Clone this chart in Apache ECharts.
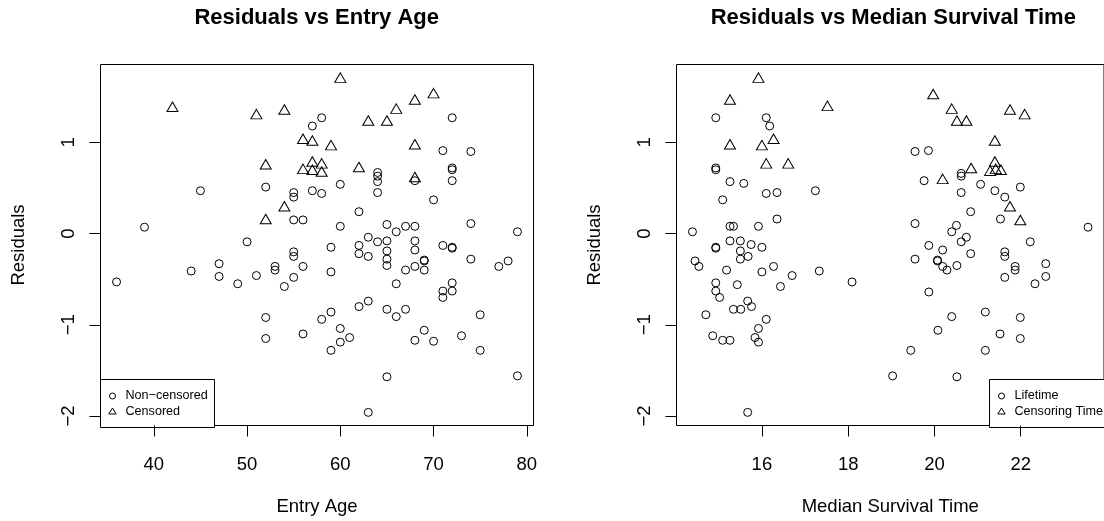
<!DOCTYPE html>
<html>
<head>
<meta charset="utf-8">
<title>Residuals</title>
<script src="https://cdn.jsdelivr.net/npm/echarts@6/dist/echarts.min.js"></script>
<style>
html,body{margin:0;padding:0;background:#fff;}
#main{width:1104px;height:521px;}
</style>
</head>
<body>
<div id="main"></div>
<script>
var FONT = '"Liberation Sans", Arial, Helvetica, sans-serif';

//left panel: entry age, non-censored
var ageLifeX = [58,57,45,52,55,55,57,58,39,55,56,50,
	55,55,44,47,47,49,51,53,53,54,55,56,36,52,52,56,
	72,71,74,72,72,72,64,64,64,64,68,60,70,62,60,65,66,67,68,74,79,59,62,63,64,65,68,71,72,
	65,65,65,62,63,59,66,67,68,68,69,69,69,72,74,77,78,72,72,71,71,62,63,65,66,67,59,58,60,60,61,59,69,68,70,73,75,75,65,79,63];
var ageLifeY = [1.27,1.18,0.47,0.51,0.45,0.40,0.47,0.44,0.07,0.15,0.15,-0.09,
	-0.20,-0.25,-0.41,-0.33,-0.47,-0.55,-0.46,-0.36,-0.40,-0.58,-0.48,-0.36,-0.53,-0.92,-1.15,-1.10,
	1.27,0.91,0.90,0.72,0.70,0.58,0.67,0.63,0.57,0.45,0.58,0.54,0.37,0.24,0.08,0.10,0.02,0.08,0.08,0.11,0.02,-0.15,-0.13,-0.04,-0.09,-0.08,-0.08,-0.13,-0.15,
	-0.19,-0.28,-0.35,-0.22,-0.25,-0.42,-0.55,-0.40,-0.36,-0.18,-0.29,-0.30,-0.40,-0.16,-0.28,-0.36,-0.30,-0.54,-0.63,-0.63,-0.70,-0.80,-0.74,-0.83,-0.91,-0.83,-0.86,-0.94,-1.04,-1.19,-1.14,-1.28,-1.06,-1.17,-1.18,-1.12,-0.89,-1.28,-1.57,-1.56,-1.96];
//left panel: entry age, censored
var ageCensX = [42,51,54,56,57,52,57,56,57,58,58,54,52,60,68,70,66,63,65,68,59,62,68];
var ageCensY = [1.39,1.31,1.36,1.04,1.02,0.76,0.79,0.71,0.70,0.77,0.68,0.30,0.16,1.71,1.47,1.54,1.37,1.24,1.24,0.98,0.97,0.73,0.62];

//right panel: median survival time, lifetime
var survLifeX = [14.93,16.1,16.18,14.93,14.93,15.26,15.58,16.1,16.35,17.24,15.09,16.35,15.92,15.26,15.34,14.39,14.93,15.26,15.5,15.75,16.0,
	14.93,15.5,15.5,15.68,14.45,14.54,15.18,16.0,16.27,16.7,17.33,18.09,16.43,14.93,14.93,15.02,15.43,15.67,15.76,15.34,15.51,14.7,16.1,15.92,14.86,15.09,15.26,15.84,15.92,15.67,
	19.55,19.86,19.76,20.62,20.62,20.62,21.07,21.4,21.63,21.99,20.84,21.53,19.55,20.51,20.4,23.56,20.74,20.62,22.22,19.87,
	20.19,20.84,21.63,21.63,19.55,20.07,20.07,20.19,20.29,20.52,21.87,21.87,21.63,22.58,22.58,22.33,19.87,20.4,21.18,21.99,20.08,21.52,21.99,19.45,21.18,19.03,20.52];
var survLifeY = [1.27,1.27,1.18,0.72,0.70,0.57,0.55,0.44,0.45,0.47,0.37,0.16,0.08,0.08,0.08,0.02,-0.15,-0.08,-0.08,-0.12,-0.15,
	-0.16,-0.19,-0.28,-0.25,-0.30,-0.36,-0.40,-0.42,-0.36,-0.46,-0.41,-0.53,-0.58,-0.54,-0.63,-0.70,-0.56,-0.74,-0.80,-0.83,-0.83,-0.89,-0.94,-1.04,-1.12,-1.17,-1.17,-1.14,-1.19,-1.96,
	0.90,0.91,0.58,0.66,0.63,0.45,0.54,0.47,0.40,0.51,0.24,0.16,0.11,0.09,0.02,0.07,-0.04,-0.09,-0.09,-0.13,
	-0.18,-0.22,-0.20,-0.25,-0.28,-0.29,-0.30,-0.36,-0.40,-0.35,-0.36,-0.40,-0.48,-0.33,-0.47,-0.55,-0.64,-0.91,-0.86,-0.92,-1.06,-1.10,-1.15,-1.28,-1.28,-1.56,-1.57];
//right panel: median survival time, censoring time
var survCensX = [15.92,15.26,17.52,15.26,16.0,16.27,16.1,16.61,19.97,20.4,20.52,20.74,21.75,22.09,21.4,21.4,21.29,21.42,21.54,20.85,20.19,21.75,21.99];
var survCensY = [1.71,1.47,1.40,0.98,0.97,1.04,0.77,0.77,1.53,1.37,1.24,1.24,1.36,1.31,1.02,0.79,0.69,0.71,0.70,0.72,0.60,0.30,0.15];

var ageTicks = [40,50,60,70,80];
var survTicks = [16,18,20,22];
var residTicks = [-2,-1,0,1];
var ageRange = [34.28, 80.72];
var survRange = [14.02, 23.93];
var residRange = [-2.104, 1.854];

function pairs(xs, ys){
	var out = [];
	for (var i = 0; i < xs.length; i++) {
		out.push([xs[i], ys[i]]);
	}
	return out;
}

//R style minus sign
function fmt(v){
	return String(v).replace('-', '\u2212');
}

function xAxisOf(idx, range, ticks, name){
	return {
		type:'value', gridIndex:idx, min:range[0], max:range[1],
		name:name, nameLocation:'middle', nameGap:72,
		nameTextStyle:{fontFamily:FONT, fontSize:18.5, lineHeight:18, color:'#000'},
		axisLine:{show:false, onZero:false},
		axisTick:{show:true, length:11, customValues:ticks, lineStyle:{color:'#000', width:1}},
		axisLabel:{show:true, customValues:ticks, margin:30.5, formatter:fmt,
			fontFamily:FONT, fontSize:18.5, lineHeight:18, color:'#000'},
		splitLine:{show:false}
	};
}

function yAxisOf(idx){
	return {
		type:'value', gridIndex:idx, min:residRange[0], max:residRange[1],
		name:'Residuals', nameLocation:'middle', nameGap:72.5,
		nameTextStyle:{fontFamily:FONT, fontSize:18.5, lineHeight:18, color:'#000'},
		axisLine:{show:false, onZero:false},
		axisTick:{show:true, length:11, customValues:residTicks, lineStyle:{color:'#000', width:1}},
		axisLabel:{show:true, customValues:residTicks, rotate:90, margin:23, formatter:fmt,
			fontFamily:FONT, fontSize:18.5, lineHeight:18, color:'#000'},
		splitLine:{show:false}
	};
}

function scatterOf(name, idx, data, symbol, size){
	return {
		name:name, type:'scatter', xAxisIndex:idx, yAxisIndex:idx,
		data:data, symbol:symbol, symbolSize:size, silent:true,
		itemStyle:{color:'rgba(0,0,0,0)', borderColor:'#000', borderWidth:1, opacity:1},
		emphasis:{disabled:true}
	};
}

//legend box drawn as in base R
function legendBox(x, y, w, h, labels){
	var cx = x + 12, tx = x + 25;
	return {
		type:'group', z:100,
		children:[
			{type:'rect', shape:{x:x, y:y, width:w, height:h}, style:{fill:'#fff', stroke:'#000', lineWidth:1}},
			{type:'circle', shape:{cx:cx, cy:y+16.5, r:3}, style:{fill:'none', stroke:'#000', lineWidth:1}},
			{type:'polygon', shape:{points:[[cx, y+28.5],[cx+3.7, y+34.5],[cx-3.7, y+34.5]]}, style:{fill:'none', stroke:'#000', lineWidth:1}},
			{type:'text', x:tx, y:y+16.5, style:{text:labels[0], font:'12.6px ' + FONT, fill:'#000', verticalAlign:'middle'}},
			{type:'text', x:tx, y:y+32.2, style:{text:labels[1], font:'12.6px ' + FONT, fill:'#000', verticalAlign:'middle'}}
		]
	};
}

function showChart(){
	var myChart = echarts.init(document.getElementById('main'), null, {renderer:'canvas'});
	var titleStyle = {fontFamily:FONT, fontSize:22, fontWeight:'bold', color:'#000'};
	var option = {
		animation:false,
		backgroundColor:'#fff',
		title:[
			{text:'Residuals vs Entry Age', left:316.7, top:7, padding:0, textAlign:'center', textStyle:titleStyle},
			{text:'Residuals vs Median Survival Time', left:893.3, top:7, padding:0, textAlign:'center', textStyle:titleStyle}
		],
		grid:[
			{left:100.5, top:64.5, width:433, height:363, show:true, borderColor:'#000', borderWidth:1, backgroundColor:'rgba(0,0,0,0)', containLabel:false},
			{left:676.5, top:64.5, width:433, height:363, show:true, borderColor:'#000', borderWidth:1, backgroundColor:'rgba(0,0,0,0)', containLabel:false}
		],
		xAxis:[
			xAxisOf(0, ageRange, ageTicks, 'Entry Age'),
			xAxisOf(1, survRange, survTicks, 'Median Survival Time')
		],
		yAxis:[yAxisOf(0), yAxisOf(1)],
		series:[
			scatterOf('Non\u2212censored', 0, pairs(ageLifeX, ageLifeY), 'circle', 8),
			scatterOf('Censored', 0, pairs(ageCensX, ageCensY), 'triangle', [11, 9.5]),
			scatterOf('Lifetime', 1, pairs(survLifeX, survLifeY), 'circle', 8),
			scatterOf('Censoring Time', 1, pairs(survCensX, survCensY), 'triangle', [11, 9.5])
		],
		graphic:[
			legendBox(100.5, 379.5, 114, 48, ['Non\u2212censored', 'Censored']),
			legendBox(989.5, 379.5, 130, 48, ['Lifetime', 'Censoring Time'])
		]
	};
	myChart.setOption(option);
}

document.addEventListener('DOMContentLoaded', showChart);
</script>
</body>
</html>
